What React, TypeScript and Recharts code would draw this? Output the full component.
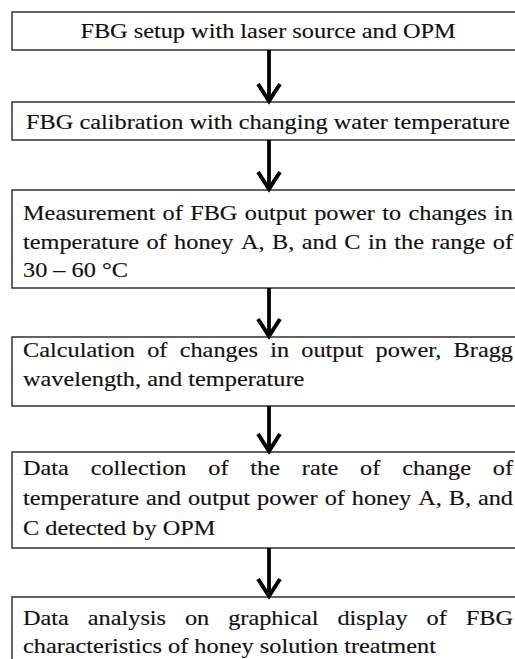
import React from 'react'
import { ComposedChart, XAxis, YAxis, ReferenceArea, ReferenceLine } from 'recharts'

// flow steps, one entry per box, already broken into the lines of the original
const steps: string[][] = [
  ['FBG setup with laser source and OPM'],
  ['FBG calibration with changing water temperature'],
  [
    'Measurement of FBG output power to changes in',
    'temperature of honey A, B, and C in the range of',
    '30 – 60 °C',
  ],
  ['Calculation of changes in output power, Bragg', 'wavelength, and temperature'],
  [
    'Data collection of the rate of change of',
    'temperature and output power of honey A, B, and',
    'C detected by OPM',
  ],
  ['Data analysis on graphical display of FBG', 'characteristics of honey solution treatment'],
]

// layout (chart units == pixels)
const W = 515
const H = 659
const BOX_LEFT = 12
const BOX_RIGHT = 528
const ARROW_X = 269
const boxTop = [12, 102, 190, 337, 452, 597]
const boxBottom = [50, 140, 288, 406, 548, 680]
const firstBaseline = [38, 129, 220, 357, 475, 625]
const lineGap = [0, 0, 28.5, 28.5, 30, 28]

const FONT_SIZE = 21
const STRETCH = 1.157
const FONT = "'Liberation Serif', 'Times New Roman', serif"
const PAD_L = 11
const TEXT_RIGHT = 513

let ctx: CanvasRenderingContext2D | null = null
const measure = (s: string) => {
  if (!ctx) {
    ctx = document.createElement('canvas').getContext('2d')
    if (ctx) ctx.font = `${FONT_SIZE}px 'Liberation Serif'`
  }
  return (ctx ? ctx.measureText(s).width : s.length * FONT_SIZE * 0.45) * STRETCH
}

const Word = ({ x, y, text }: { x: number; y: number; text: string }) => (
  <text
    x={x}
    y={y}
    textLength={measure(text)}
    lengthAdjust="spacingAndGlyphs"
    fontSize={FONT_SIZE}
    fontFamily={FONT}
    fill="#111"
    stroke="#111"
    strokeWidth={0.15}
  >
    {text}
  </text>
)

const StepBox = (props: any, idx: number) => {
  const { x, y, width, height } = props
  const lines = steps[idx]
  const left = x + PAD_L
  const right = x + (TEXT_RIGHT - BOX_LEFT)
  const center = x + (BOX_RIGHT - BOX_LEFT) / 2 - 2
  const items: React.ReactNode[] = []
  lines.forEach((line, li) => {
    const by = y + (firstBaseline[idx] - boxTop[idx]) + li * lineGap[idx]
    if (lines.length === 1) {
      const w = measure(line)
      items.push(<Word key={li} x={center - w / 2} y={by} text={line} />)
    } else if (li === lines.length - 1) {
      items.push(<Word key={li} x={left} y={by} text={line} />)
    } else {
      const words = line.split(' ')
      const widths = words.map(measure)
      const total = widths.reduce((a, b) => a + b, 0)
      const gap = (right - left - total) / (words.length - 1)
      let cx = left
      words.forEach((wd, wi) => {
        items.push(<Word key={`${li}-${wi}`} x={cx} y={by} text={wd} />)
        cx += widths[wi] + gap
      })
    }
  })
  return (
    <g>
      <rect x={x} y={y} width={width} height={height} fill="#fff" stroke="#3c3c3c" strokeWidth={1.6} />
      {items}
    </g>
  )
}

const Arrow = (props: any) => {
  const { x1, y1, x2, y2 } = props
  const top = Math.min(y1, y2)
  const tip = Math.max(y1, y2) - 1
  return (
    <g>
      <line x1={x1} y1={top} x2={x2} y2={tip - 2} stroke="#000" strokeWidth={3.8} />
      <polyline
        points={`${x2 - 11},${tip - 17} ${x2},${tip} ${x2 + 11},${tip - 17}`}
        fill="none"
        stroke="#000"
        strokeWidth={4}
        strokeLinejoin="miter"
      />
    </g>
  )
}

const App = () => (
  <div style={{ position: 'absolute', left: 0, top: 0, background: '#fff' }}>
    <ComposedChart width={W} height={H} margin={{ top: 0, right: 0, bottom: 0, left: 0 }}>
      <XAxis type="number" dataKey="x" domain={[0, W]} allowDataOverflow hide />
      <YAxis type="number" dataKey="y" domain={[0, H]} allowDataOverflow reversed hide />
      {steps.slice(0, -1).map((_, i) => (
        <ReferenceLine
          key={`a${i}`}
          segment={[
            { x: ARROW_X, y: boxBottom[i] },
            { x: ARROW_X, y: boxTop[i + 1] },
          ]}
          ifOverflow="visible"
          shape={Arrow}
        />
      ))}
      {steps.map((_, i) => (
        <ReferenceArea
          key={`b${i}`}
          x1={BOX_LEFT}
          x2={BOX_RIGHT}
          y1={boxTop[i]}
          y2={boxBottom[i]}
          ifOverflow="visible"
          shape={(p: any) => StepBox(p, i)}
        />
      ))}
    </ComposedChart>
  </div>
)

export default App
